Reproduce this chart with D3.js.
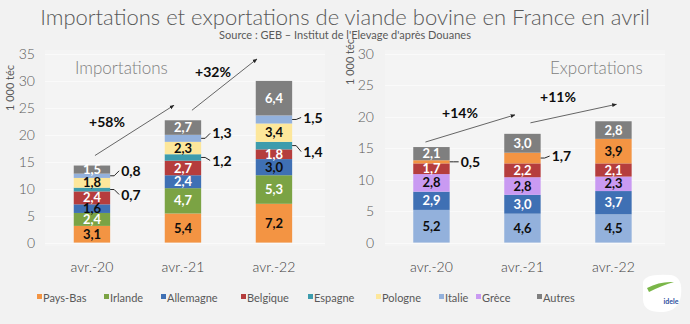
<!DOCTYPE html>
<html>
<head>
<meta charset="utf-8">
<script src="https://cdn.jsdelivr.net/npm/d3@7"></script>
<style>
  body { margin: 0; background: #f2f2f2; }
  svg { display: block; font-family: Lato, "Open Sans", sans-serif; }
</style>
</head>
<body>
<svg id="chart" width="690" height="324"></svg>
<script>
var categories = ["avr.-20", "avr.-21", "avr.-22"];
var countries = ["Pays-Bas", "Irlande", "Allemagne", "Belgique", "Espagne", "Pologne", "Italie", "Grèce", "Autres"];
var colors = ["#f39443", "#7ba344", "#3f70b4", "#b53d3d", "#3d9cad", "#fde79b", "#93b1dc", "#c99af2", "#7f7f7f"];

// importations, bottom to top
var impSeries = ["Pays-Bas", "Irlande", "Allemagne", "Belgique", "Espagne", "Pologne", "Italie", "Autres"];
var impPaysBas = [3.1, 5.4, 7.2];
var impIrlande = [2.4, 4.7, 5.3];
var impAllemagne = [1.6, 2.4, 3.0];
var impBelgique = [2.4, 2.7, 1.8];
var impEspagne = [0.7, 1.2, 1.4];
var impPologne = [1.8, 2.3, 3.4];
var impItalie = [0.8, 1.3, 1.5];
var impAutres = [1.5, 2.7, 6.4];
var impGrowth = ["+58%", "+32%"];

// exportations, bottom to top
var expSeries = ["Italie", "Allemagne", "Grèce", "Belgique", "Pays-Bas", "Autres"];
var expItalie = [5.2, 4.6, 4.5];
var expAllemagne = [2.9, 3.0, 3.7];
var expGrece = [2.8, 2.8, 2.3];
var expBelgique = [1.7, 2.2, 2.1];
var expPaysBas = [0.5, 1.7, 3.9];
var expAutres = [2.1, 3.0, 2.8];
var expGrowth = ["+14%", "+11%"];

var impTicks = [0, 5, 10, 15, 20, 25, 30, 35];
var expTicks = [0, 5, 10, 15, 20, 25, 30];

var svg = d3.select("#chart");
var color = d3.scaleOrdinal().domain(countries).range(colors);

// label text colour per series (dark on light fills)
var darkLabel = { "Pays-Bas": true, "Pologne": true, "Italie": true, "Grèce": true };

svg.append("text").attr("x", 345).attr("y", 25).attr("text-anchor", "middle")
  .attr("font-size", 22).attr("font-weight", 300).attr("fill", "#595959")
  .text("Importations et exportations de viande bovine en France en avril");
svg.append("text").attr("x", 345).attr("y", 39).attr("text-anchor", "middle")
  .attr("font-size", 11).attr("fill", "#595959")
  .text("Source : GEB – Institut de l'Elevage d'après Douanes");

svg.append("defs").append("marker").attr("id", "arr")
  .attr("viewBox", "0 0 10 10").attr("refX", 9).attr("refY", 5)
  .attr("markerWidth", 6).attr("markerHeight", 6).attr("orient", "auto")
  .append("path").attr("d", "M0,1 L10,5 L0,9 Z").attr("fill", "#262626");

function drawPanel(opt) {
  var g = svg.append("g");
  var y = d3.scaleLinear().domain([0, opt.max]).range([242.6, 54]);
  // step 91, bar 36.5 wide
  var x = d3.scaleBand().domain(categories)
    .range([opt.c0 - 63.75, opt.c0 - 63.75 + 91 * 3.4]).paddingInner(0.6).paddingOuter(0.5);

  g.append("rect").attr("x", opt.bg[0]).attr("y", 50).attr("width", opt.bg[1] - opt.bg[0]).attr("height", 196)
    .attr("fill", "#f4f4f4");
  g.selectAll(".grid").data(opt.ticks).enter().append("line")
    .attr("x1", opt.bg[0]).attr("x2", opt.bg[1])
    .attr("y1", function (d) { return Math.round(y(d)) + 0.5; })
    .attr("y2", function (d) { return Math.round(y(d)) + 0.5; })
    .attr("stroke", "#fafafa");

  var axis = g.append("g").attr("transform", "translate(" + opt.axisX + ",0)")
    .call(d3.axisLeft(y).tickValues(opt.ticks).tickSize(0).tickPadding(0));
  axis.select(".domain").remove();
  axis.selectAll("text").attr("font-size", 14).attr("fill", "#595959")
    .attr("font-family", "Lato, sans-serif").attr("font-weight", 300);

  g.append("text").attr("transform", "translate(" + opt.unitX + "," + opt.unitY + ") rotate(-90)")
    .attr("text-anchor", "middle").attr("font-size", 11).attr("fill", "#595959").text("1 000 téc");

  var xAxis = g.append("g").attr("transform", "translate(0,262)")
    .call(d3.axisBottom(x).tickSize(0).tickPadding(0));
  xAxis.select(".domain").remove();
  xAxis.selectAll("text").attr("font-size", 14).attr("fill", "#404040")
    .attr("font-family", "Lato, sans-serif").attr("font-weight", 300);

  g.append("text").attr("x", opt.titleX).attr("y", 74).attr("font-size", 17)
    .attr("font-weight", 300).attr("fill", "#808080").text(opt.title);

  var rows = categories.map(function (c, i) {
    var r = { cat: c };
    opt.series.forEach(function (s, k) { r[s] = opt.values[k][i]; });
    return r;
  });
  var stacked = d3.stack().keys(opt.series)(rows);

  var layer = g.selectAll(".layer").data(stacked).enter().append("g")
    .attr("fill", function (d) { return color(d.key); });
  layer.selectAll("rect").data(function (d) { return d; }).enter().append("rect")
    .attr("x", function (d) { return x(d.data.cat); })
    .attr("width", x.bandwidth())
    .attr("y", function (d) { return y(d[1]); })
    .attr("height", function (d) { return y(d[0]) - y(d[1]); });

  stacked.forEach(function (ser) {
    ser.forEach(function (d, i) {
      var v = d[1] - d[0];
      var txt = d3.format(".1f")(v).replace(".", ",");
      var cx = x(d.data.cat) + x.bandwidth() / 2;
      var cy = (y(d[0]) + y(d[1])) / 2;
      var out = opt.outside[ser.key] ? opt.outside[ser.key][i] : null;
      if (out !== null && out !== undefined) {
        var bx = x(d.data.cat) + x.bandwidth();
        var ty = cy + out;
        g.append("path").attr("d", "M" + bx + "," + cy + " L" + (bx + 4) + "," + cy + " L" + (bx + 9) + "," + ty)
          .attr("fill", "none").attr("stroke", "#262626").attr("stroke-width", 1);
        g.append("text").attr("x", bx + 11).attr("y", ty).attr("dy", "0.36em")
          .attr("font-size", 14).attr("font-weight", 700).attr("fill", "#0d0d0d").text(txt);
      } else {
        var dark = opt.dark(ser.key, i);
        g.append("text").attr("x", cx).attr("y", cy).attr("dy", "0.35em").attr("text-anchor", "middle")
          .attr("font-size", 13).attr("font-weight", 700)
          .attr("fill", dark ? "#0d0d0d" : "#ffffff").text(txt);
      }
    });
  });

  // growth arrows between bar tops
  var totals = stacked[stacked.length - 1].map(function (d) { return d[1]; });
  opt.growth.forEach(function (lab, i) {
    var a = opt.arrows[i];
    var x1 = x(categories[i]) + x.bandwidth() / 2 + a[0];
    var y1 = y(totals[i]) - a[1];
    var x2 = x(categories[i + 1]) + x.bandwidth() / 2 + a[2];
    var y2 = y(totals[i + 1]) - a[3];
    g.append("line").attr("x1", x1).attr("y1", y1).attr("x2", x2).attr("y2", y2)
      .attr("stroke", "#404040").attr("stroke-width", 0.8).attr("marker-end", "url(#arr)");
    g.append("text").attr("x", a[4]).attr("y", a[5]).attr("text-anchor", "middle")
      .attr("font-size", 14).attr("font-weight", 700).attr("fill", "#0d0d0d").text(lab);
  });
}

drawPanel({
  c0: 92, bg: [45, 325], axisX: 35, unitX: 14, unitY: 88, max: 35, ticks: impTicks,
  title: "Importations", titleX: 75,
  series: impSeries,
  values: [impPaysBas, impIrlande, impAllemagne, impBelgique, impEspagne, impPologne, impItalie, impAutres],
  outside: { "Espagne": [5, 3, 6], "Italie": [-5, -5, -2] },
  dark: function (k, i) { return darkLabel[k] || (k === "Allemagne" && i !== 1); },
  growth: impGrowth,
  arrows: [[3, 10, -9, 15, 107, 127], [9, 10, -17, 22, 213, 77]]
});

drawPanel({
  c0: 431.5, bg: [385, 665], axisX: 374, unitX: 354, unitY: 62, max: 30, ticks: expTicks,
  title: "Exportations", titleX: 550,
  series: expSeries,
  values: [expItalie, expAllemagne, expGrece, expBelgique, expPaysBas, expAutres],
  outside: { "Pays-Bas": [0, -2, null] },
  dark: function (k, i) { return darkLabel[k]; },
  growth: expGrowth,
  arrows: [[-6, 5, -7.5, 19, 460, 118], [8, 11, 3, 17, 558, 102]]
});

// legend
var legend = svg.append("g").attr("transform", "translate(0,298)");
var legX = [37, 104, 161, 241, 308, 376, 439, 476, 537];
countries.forEach(function (c, i) {
  legend.append("rect").attr("x", legX[i]).attr("y", -4).attr("width", 5).attr("height", 5).attr("fill", color(c));
  legend.append("text").attr("x", legX[i] + 6).attr("y", 0).attr("dy", "0.35em")
    .attr("font-size", 11).attr("fill", "#595959").text(c);
});

// logo
var logo = svg.append("g").attr("transform", "translate(641,273)");
logo.append("path").attr("d", "M2,9 Q4,0 30,2 Q42,4 40,22 Q38,38 22,39 Q2,40 2,26 Z").attr("fill", "#ffffff");
logo.append("path").attr("d", "M6,15 Q19,8 33,9 Q22,12 8,19 Z").attr("fill", "#7ab648");
logo.append("text").attr("x", 30).attr("y", 31).attr("text-anchor", "middle")
  .attr("font-size", 7).attr("font-weight", 700).attr("fill", "#2e4e9e").text("idele");
</script>
</body>
</html>
